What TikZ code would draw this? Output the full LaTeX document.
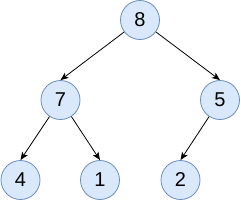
\documentclass[tikz,border=0pt]{standalone}
\usepackage{fontspec}
\setmainfont{Liberation Sans}
\usetikzlibrary{arrows.meta}
\definecolor{nodefill}{HTML}{DAE8FC}
\definecolor{nodeline}{HTML}{6C8EBF}
\tikzset{
  heapnode/.style={circle, draw=nodeline, fill=nodefill, line width=0.8pt,
    minimum size=39pt, inner sep=0pt, font=\fontsize{20}{24}\selectfont},
  heapedge/.style={-{Stealth[length=8pt, width=6.5pt, inset=2pt]}, line width=0.8pt}
}
\begin{document}
\begin{tikzpicture}[x=1pt, y=-1pt]
  \useasboundingbox (0,0) rectangle (241,201);
  % levels of the heap
  \node[heapnode] (n8) at (140,20) {8};
  \node[heapnode] (n7) at (60.5,100) {7};
  \node[heapnode] (n5) at (220,100) {5};
  \node[heapnode] (n4) at (20.5,180) {4};
  \node[heapnode] (n1) at (100,180) {1};
  \node[heapnode] (n2) at (180.5,180) {2};
  % parent to child links
  \draw[heapedge] (n8) -- (n7.north);
  \draw[heapedge] (n8) -- (n5.north);
  \draw[heapedge] (n7) -- (n4.north);
  \draw[heapedge] (n7) -- (n1.north);
  \draw[heapedge] (n5) -- (n2.north);
\end{tikzpicture}
\end{document}
